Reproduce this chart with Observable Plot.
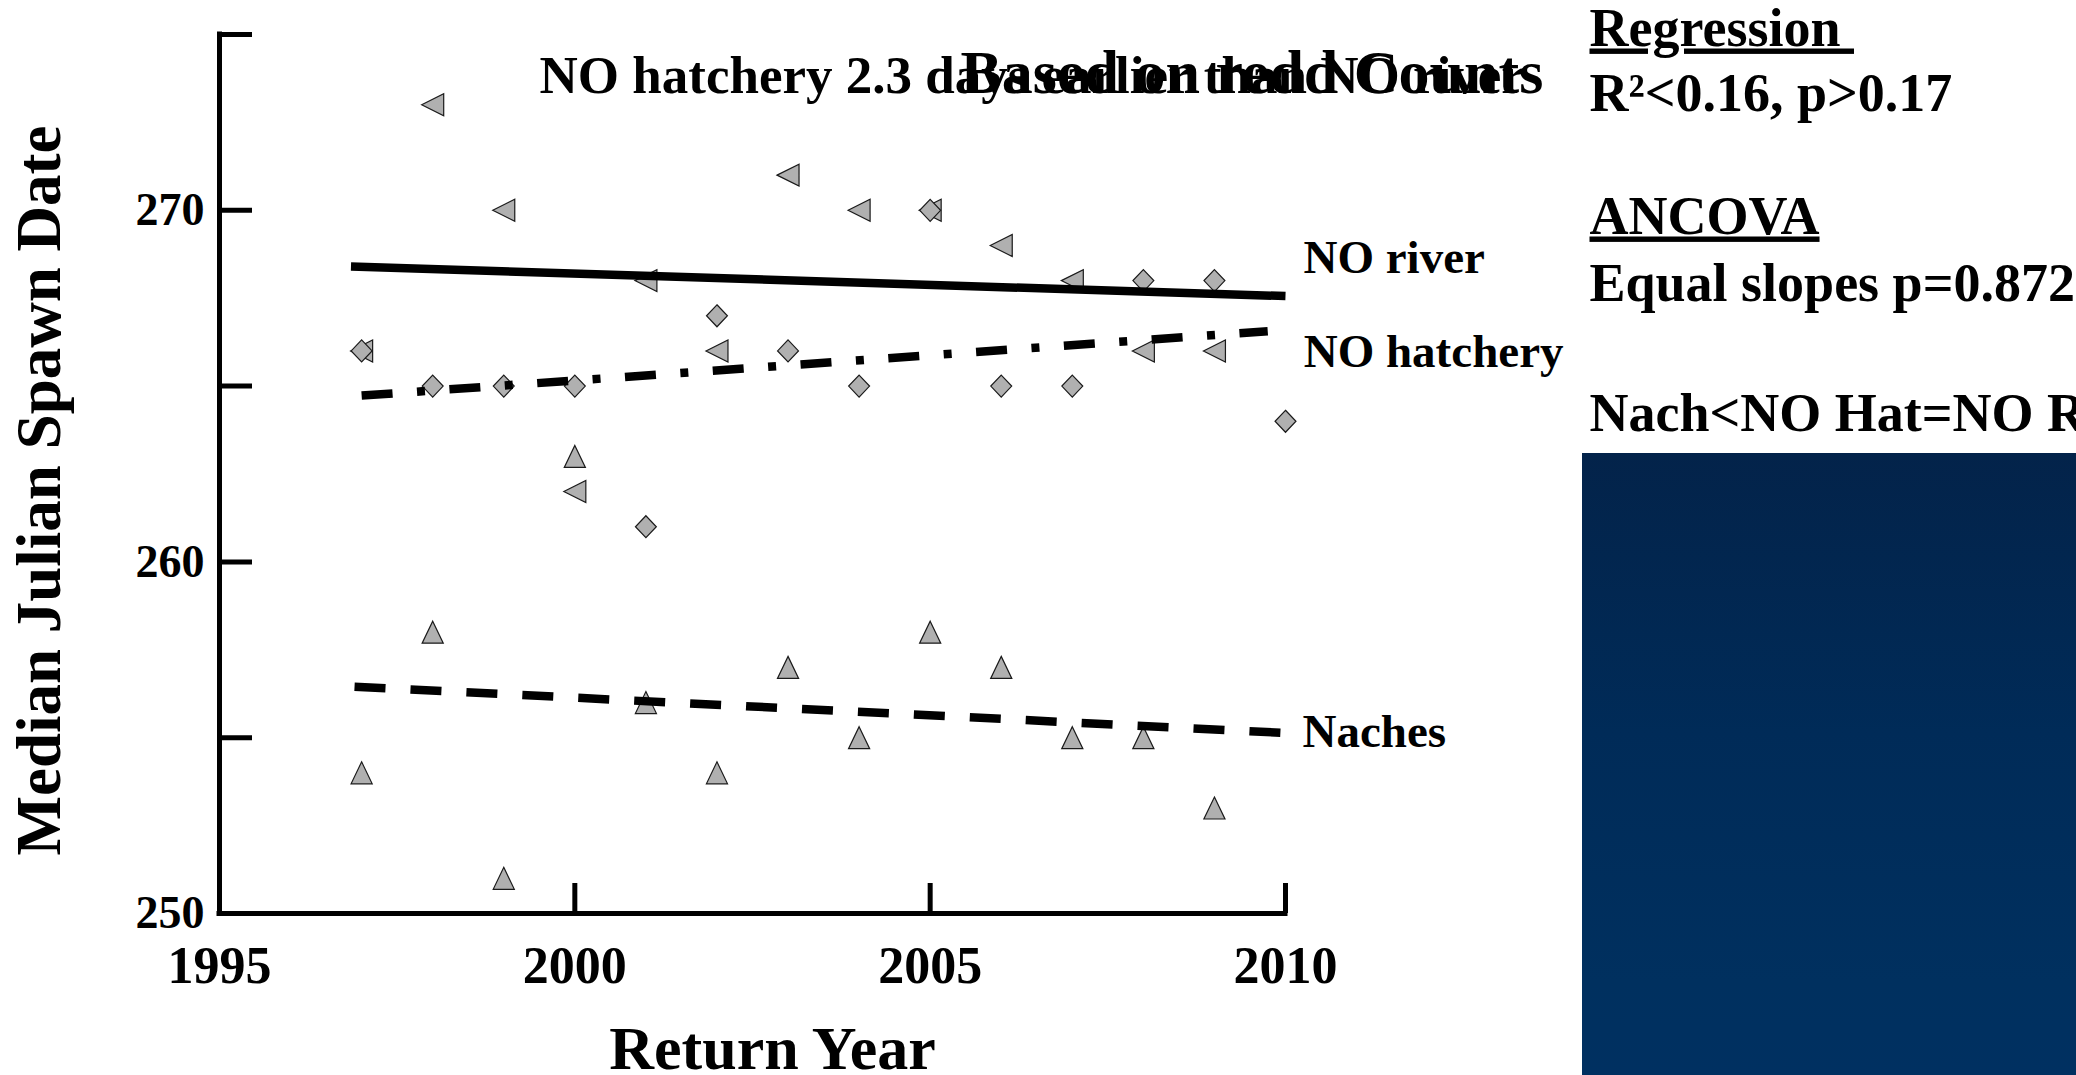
<!DOCTYPE html>
<html>
<head>
<meta charset="utf-8">
<script src="https://cdn.jsdelivr.net/npm/d3@7"></script>
<script src="https://cdn.jsdelivr.net/npm/@observablehq/plot@0.6"></script>
<style>
  html, body { margin: 0; padding: 0; background: #fff; overflow: hidden; }
  #stage { position: relative; width: 2076px; height: 1075px; overflow: hidden; background: #fff; }
  #stage svg { position: absolute; left: 0; top: 0; }
  #panel {
    position: absolute; left: 1582px; top: 453px; width: 494px; height: 622px;
    background: linear-gradient(to bottom, #03234a 0%, #002b58 45%, #00305f 85%, #003061 100%);
  }
</style>
</head>
<body>
<div id="stage"></div>
<script>
// Median Julian spawn date by return year, one pair of arrays per stock
const riverYears = [1997, 1998, 1999, 2000, 2001, 2002, 2003, 2004, 2005, 2006, 2007, 2008, 2009];
const riverDays  = [266, 273, 270, 262, 268, 266, 271, 270, 270, 269, 268, 266, 266];

const hatcheryYears = [1997, 1998, 1999, 2000, 2001, 2002, 2003, 2004, 2005, 2006, 2007, 2008, 2009, 2010];
const hatcheryDays  = [266, 265, 265, 265, 261, 267, 266, 265, 270, 265, 265, 268, 268, 264];

const nachesYears = [1997, 1998, 1999, 2000, 2001, 2002, 2003, 2004, 2005, 2006, 2007, 2008, 2009];
const nachesDays  = [254, 258, 251, 263, 256, 254, 257, 255, 258, 257, 255, 255, 253];

// Fitted trend lines (start and end of each regression line)
const fitNames     = ["NO river", "NO hatchery", "Naches"];
const fitStartYear = [1996.85, 1997, 1996.9];
const fitStartDay  = [268.4, 264.73, 256.45];
const fitEndYear   = [2010, 2009.75, 2009.93];
const fitEndDay    = [267.56, 266.56, 255.14];

// Axis ticks and labels
const xTickValues  = [1995, 2000, 2005, 2010];
const yTickValues  = [250, 255, 260, 265, 270, 275];
const yLabelValues = [250, 260, 270];

// Text
const xTitle = "Return Year";
const yTitle = "Median Julian Spawn Date";
const headline = "NO hatchery 2.3 days earlier than NO river";
const subhead = "Based on redd Counts";
const statsLines = ["Regression\u00a0", "R\u00b2<0.16, p>0.17", "ANCOVA", "Equal slopes p=0.872", "Nach<NO Hat=NO R"];
const underlined = ["Regression\u00a0", "ANCOVA"];

const toPoints = (years, days) => years.map((year, i) => ({year, day: days[i]}));
const river = toPoints(riverYears, riverDays);
const hatchery = toPoints(hatcheryYears, hatcheryDays);
const naches = toPoints(nachesYears, nachesDays);
const fits = fitNames.map((name, i) => ({
  name, x1: fitStartYear[i], y1: fitStartDay[i], x2: fitEndYear[i], y2: fitEndDay[i]
}));
const fit = (name) => fits.filter((d) => d.name === name);

// Marker shapes; r = sqrt(size / PI) is the half-extent of each glyph
const half = (size) => Math.sqrt(size / Math.PI);
const triangleUp = {draw(ctx, size) {
  const r = half(size);
  ctx.moveTo(0, -r); ctx.lineTo(0.96 * r, r); ctx.lineTo(-0.96 * r, r); ctx.closePath();
}};
const triangleLeft = {draw(ctx, size) {
  const r = half(size);
  ctx.moveTo(-r, 0); ctx.lineTo(r, -r); ctx.lineTo(r, r); ctx.closePath();
}};
const diamond = {draw(ctx, size) {
  const r = half(size);
  ctx.moveTo(0, -r); ctx.lineTo(0.95 * r, 0); ctx.lineTo(0, r); ctx.lineTo(-0.95 * r, 0); ctx.closePath();
}};

const FONT = "'Liberation Serif', 'Times New Roman', serif";
const markerStyle = {fill: "#b0b0b0", stroke: "#1a1a1a", strokeWidth: 1.2, r: 11};
const textStyle = {fill: "black", fontWeight: "bold", fontFamily: FONT, lineAnchor: "bottom"};

const chart = Plot.plot({
  width: 2076,
  height: 1075,
  marginLeft: 219,
  marginRight: 791,
  marginTop: 34,
  marginBottom: 162,
  x: {domain: [1995, 2010], axis: null},
  y: {domain: [250, 275], axis: null},
  style: {fontFamily: FONT, fontWeight: "bold", background: "white", color: "black"},
  marks: [
    // axis lines
    Plot.ruleX([1995], {stroke: "black", strokeWidth: 5, strokeLinecap: "square"}),
    Plot.ruleY([250], {stroke: "black", strokeWidth: 5, strokeLinecap: "square"}),
    // inward ticks
    Plot.axisY({ticks: yTickValues, tickSize: 33, dx: 33, fill: "none", stroke: "black", strokeWidth: 5, label: null}),
    Plot.axisX({ticks: xTickValues, tickSize: 30, dy: -30, fill: "none", stroke: "black", strokeWidth: 5, label: null}),
    // tick labels
    Plot.axisY({ticks: yLabelValues, tickSize: 0, tickPadding: 15, tickFormat: "d", fontSize: 46, fontWeight: "bold", fill: "black", label: null}),
    Plot.axisX({ticks: xTickValues, tickSize: 0, tickPadding: 33, tickFormat: "d", fontSize: 52, fontWeight: "bold", fill: "black", label: null}),

    // observations
    Plot.dot(naches, {x: "year", y: "day", symbol: triangleUp, ...markerStyle}),
    Plot.dot(river, {x: "year", y: "day", symbol: triangleLeft, ...markerStyle}),
    Plot.dot(hatchery, {x: "year", y: "day", symbol: diamond, ...markerStyle}),

    // trend lines
    Plot.link(fit("NO river"), {x1: "x1", y1: "y1", x2: "x2", y2: "y2", stroke: "black", strokeWidth: 8.5}),
    Plot.link(fit("NO hatchery"), {x1: "x1", y1: "y1", x2: "x2", y2: "y2", stroke: "black", strokeWidth: 8.5, strokeDasharray: "31,24.5,8,24.5"}),
    Plot.link(fit("Naches"), {x1: "x1", y1: "y1", x2: "x2", y2: "y2", stroke: "black", strokeWidth: 8.5, strokeDasharray: "31,25"}),

    // line labels
    Plot.text(fit("NO river"), {x: "x2", y: "y2", text: "name", dx: 18, dy: -23, fontSize: 47, textAnchor: "start", ...textStyle}),
    Plot.text(fit("NO hatchery"), {x: "x2", y: "y2", text: "name", dx: 36, dy: 36, fontSize: 47, textAnchor: "start", ...textStyle}),
    Plot.text(fit("Naches"), {x: "x2", y: "y2", text: "name", dx: 22, dy: 14, fontSize: 47, textAnchor: "start", ...textStyle}),

    // overlapping headlines
    Plot.text([headline], {text: (d) => d, frameAnchor: "top-left", dx: 320, dy: 58, fontSize: 53, textAnchor: "start", ...textStyle}),
    Plot.text([subhead], {text: (d) => d, frameAnchor: "top-left", dx: 741, dy: 58, fontSize: 62, textAnchor: "start", ...textStyle}),

    // axis titles
    Plot.text([yTitle], {text: (d) => d, frameAnchor: "left", dx: -160, dy: 16.5, rotate: -90, fontSize: 63, textAnchor: "middle", ...textStyle}),
    Plot.text([xTitle], {text: (d) => d, frameAnchor: "bottom", dx: 20, dy: 155, fontSize: 62, textAnchor: "middle", ...textStyle}),

    // statistics block
    ...statsLines.map((line, i) => Plot.text([line], {
      text: (d) => d, frameAnchor: "top-right", dx: 304, dy: [11, 76, 199, 266, 396][i],
      fontSize: 54, textAnchor: "start", ...textStyle
    }))
  ]
});

d3.select(chart).selectAll("text")
  .filter(function () { return underlined.includes(this.textContent); })
  .style("text-decoration", "underline")
  .style("text-decoration-skip-ink", "none");

const stage = document.getElementById("stage");
stage.appendChild(chart);
const panel = document.createElement("div");
panel.id = "panel";
stage.appendChild(panel);
</script>
</body>
</html>
